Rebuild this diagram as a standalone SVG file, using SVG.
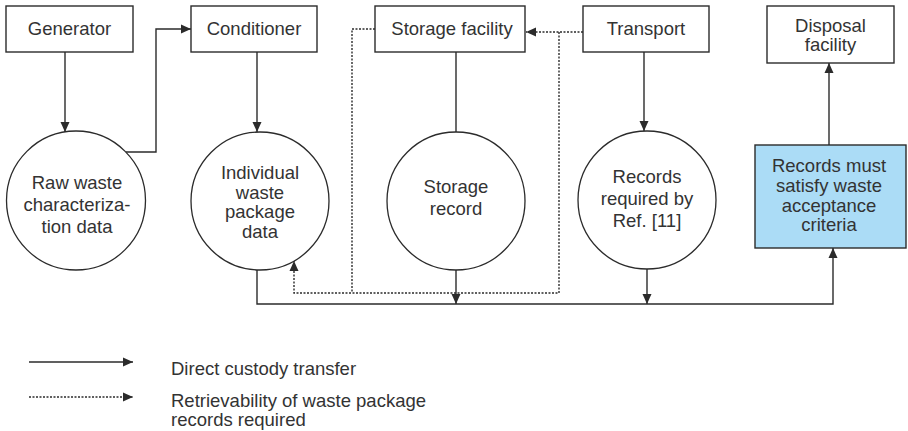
<svg xmlns="http://www.w3.org/2000/svg" width="908" height="431" viewBox="0 0 908 431">
<style>
.box{fill:#fff;stroke:#2b2b2b;stroke-width:1.4}
.blue{fill:#abdcf6;stroke:#2b2b2b;stroke-width:1.4}
.circ{fill:#fff;stroke:#2b2b2b;stroke-width:1.3}
.t{font-family:"Liberation Sans",Arial,sans-serif;font-size:18.5px;fill:#333;text-anchor:middle}
.lt{font-family:"Liberation Sans",Arial,sans-serif;font-size:18.5px;fill:#333}
.solid{fill:none;stroke:#2b2b2b;stroke-width:1.4}
.dot{fill:none;stroke:#2b2b2b;stroke-width:1.4;stroke-dasharray:2 1.5}
</style>
<defs>
<marker id="ah" viewBox="0 0 10 10" refX="10" refY="5" markerWidth="10" markerHeight="10" markerUnits="userSpaceOnUse" orient="auto">
<path d="M0,0.5 L10,5 L0,9.5 Z" fill="#2b2b2b"/>
</marker>
</defs>
<rect width="908" height="431" fill="#fff"/>
<g id="connectors">
<line class="solid" x1="65" y1="52" x2="65" y2="132" marker-end="url(#ah)"/>
<polyline class="solid" points="126,152 156,152 156,29 191,29" marker-end="url(#ah)"/>
<line class="solid" x1="257" y1="52" x2="257" y2="132" marker-end="url(#ah)"/>
<line class="solid" x1="456" y1="52" x2="456" y2="132"/>
<line class="solid" x1="644" y1="52" x2="644" y2="131" marker-end="url(#ah)"/>
<line class="solid" x1="829" y1="145" x2="829" y2="63" marker-end="url(#ah)"/>
<polyline class="solid" points="257,270 257,304 833,304 833,248" marker-end="url(#ah)"/>
<line class="solid" x1="456" y1="270" x2="456" y2="304" marker-end="url(#ah)"/>
<line class="solid" x1="647" y1="269" x2="647" y2="304" marker-end="url(#ah)"/>
<line class="dot" x1="583" y1="32" x2="526" y2="32" marker-end="url(#ah)"/>
<polyline class="dot" points="559,32 559,293 294,293 294,261" marker-end="url(#ah)"/>
<polyline class="dot" points="375,29 352,29 352,293"/>
</g>
<g id="generator"><rect class="box" x="6" y="6" width="127" height="46"/><text class="t" x="69.5" y="35">Generator</text></g>
<g id="conditioner"><rect class="box" x="191" y="6" width="126" height="46"/><text class="t" x="254" y="35">Conditioner</text></g>
<g id="storage-facility"><rect class="box" x="375" y="6" width="150" height="46"/><text class="t" x="452" y="35">Storage facility</text></g>
<g id="transport"><rect class="box" x="583" y="6" width="126" height="46"/><text class="t" x="646" y="35">Transport</text></g>
<g id="disposal-facility"><rect class="box" x="767" y="6" width="127" height="57"/><text class="t" x="830.5" y="32">Disposal</text><text class="t" x="830.5" y="51">facility</text></g>
<g id="raw-waste"><circle class="circ" cx="76" cy="200.5" r="69.5"/><text class="t" x="77" y="189">Raw waste</text><text class="t" x="77" y="211">characteriza-</text><text class="t" x="77" y="233">tion data</text></g>
<g id="individual"><circle class="circ" cx="260" cy="201" r="69"/><text class="t" x="260" y="179">Individual</text><text class="t" x="260" y="198.5">waste</text><text class="t" x="260" y="218">package</text><text class="t" x="260" y="237.5">data</text></g>
<g id="storage-record"><circle class="circ" cx="456" cy="201" r="69"/><text class="t" x="456" y="193">Storage</text><text class="t" x="456" y="215">record</text></g>
<g id="records-ref"><circle class="circ" cx="647" cy="200" r="69"/><text class="t" x="647" y="183">Records</text><text class="t" x="647" y="205">required by</text><text class="t" x="647" y="227">Ref. [11]</text></g>
<g id="acceptance"><rect class="blue" x="755" y="145" width="151" height="103"/><text class="t" x="829" y="172">Records must</text><text class="t" x="829" y="192">satisfy waste</text><text class="t" x="829" y="212">acceptance</text><text class="t" x="829" y="231">criteria</text></g>
<g id="legend">
<line class="solid" x1="29" y1="362" x2="133" y2="362" marker-end="url(#ah)"/>
<line class="dot" x1="29" y1="397" x2="133" y2="397" marker-end="url(#ah)"/>
<text class="lt" x="171" y="375">Direct custody transfer</text>
<text class="lt" x="171" y="407">Retrievability of waste package</text>
<text class="lt" x="171" y="426">records required</text>
</g>
</svg>
